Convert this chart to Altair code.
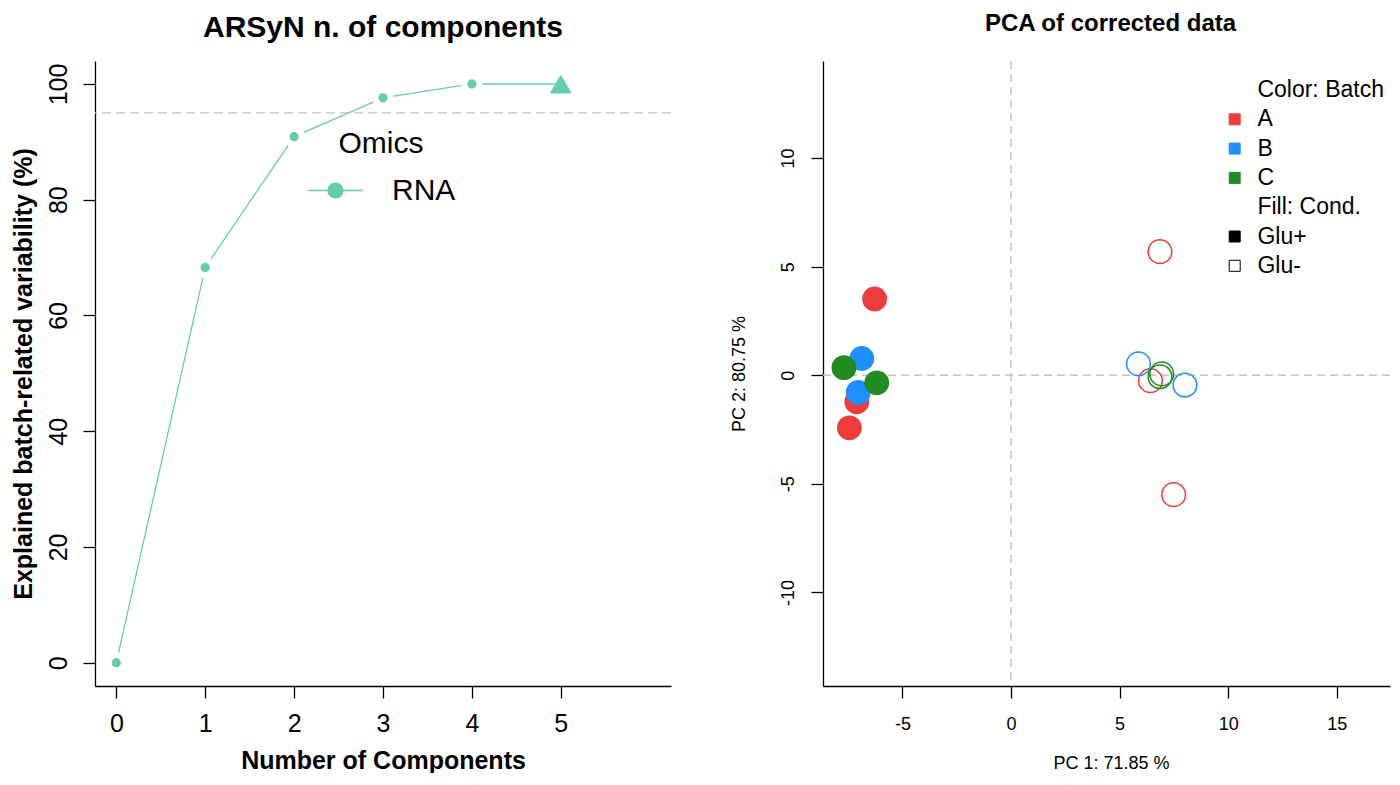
import altair as alt
import pandas as pd

TEAL = "#66CDAA"
RED = "#EE3B3B"
BLUE = "#1E90FF"
GREEN = "#228B22"
DASH = "#C4C4C4"

# ---- left panel data ----
components = [0, 1, 2, 3, 4, 5]
variability = [0.0, 68.3, 90.9, 97.6, 100.0, 100.0]
selected = [False, False, False, False, False, True]
omics = ["RNA"] * 6
threshold = [95]

# ---- right panel data ----
batch = ["A"] * 6 + ["B"] * 4 + ["C"] * 4
cond = ["Glu+", "Glu+", "Glu+", "Glu-", "Glu-", "Glu-",
        "Glu+", "Glu+", "Glu-", "Glu-",
        "Glu+", "Glu+", "Glu-", "Glu-"]
pc1 = [-6.28, -7.10, -7.44, 6.86, 6.42, 7.49,
       -6.87, -7.03, 5.87, 8.01,
       -7.69, -6.18, 6.94, 6.86]
pc2 = [3.51, -1.22, -2.42, 5.69, -0.25, -5.50,
       0.77, -0.79, 0.52, -0.45,
       0.35, -0.35, 0.06, -0.07]
batches = ["A", "B", "C"]
batch_colors = [RED, BLUE, GREEN]

legend_labels = ["Color: Batch", "A", "B", "C", "Fill: Cond.", "Glu+", "Glu-"]
legend_fill = ["transparent", RED, BLUE, GREEN, "transparent", "black", "white"]
legend_stroke = ["transparent", RED, BLUE, GREEN, "transparent", "black", "black"]

WL, WR, H = 576, 567, 625

# ================= LEFT =================
df_l = pd.DataFrame({"comp": components, "var": variability, "sel": selected, "omic": omics})
df_thr = pd.DataFrame({"var": threshold})

xl = alt.X("comp:Q",
           scale=alt.Scale(domain=[-0.24, 6.24], nice=False, zero=False),
           axis=alt.Axis(values=components, title="Number of Components",
                         titleFontSize=25, titleFontWeight="bold",
                         labelFontSize=25, labelPadding=13, titlePadding=12,
                         labelFlush=False, labelOverlap=False))
yl = alt.Y("var:Q",
           scale=alt.Scale(domain=[-4.03, 103.97], nice=False, zero=False),
           axis=alt.Axis(values=[0, 20, 40, 60, 80, 100],
                         title="Explained batch-related variability (%)",
                         titleFontSize=25, titleFontWeight="bold",
                         labelFontSize=25, labelAngle=270, labelAlign="center",
                         labelBaseline="bottom", labelPadding=12, titlePadding=10,
                         labelFlush=False, labelOverlap=False))

SYM = "M-1,0L1,0M-0.27,0A0.27,0.27,0,1,1,0.27,0A0.27,0.27,0,1,1,-0.27,0Z"
leg_l = alt.Legend(title="Omics", orient="none", legendX=212, legendY=68,
                   titleFontSize=30, titleFontWeight="normal", titleAnchor="middle",
                   titlePadding=3, titleColor="black",
                   labelFontSize=30, labelColor="black", labelOffset=28,
                   symbolType=SYM, symbolSize=3025, symbolStrokeWidth=1.3,
                   symbolOpacity=1, padding=0)

thr = alt.Chart(df_thr).mark_rule(color=DASH, strokeDash=[9, 5], strokeWidth=1.2).encode(y=yl)
line = alt.Chart(df_l).mark_line(color=TEAL, strokeWidth=1.3).encode(x=xl, y=yl)
halo = alt.Chart(df_l).transform_filter("!datum.sel").mark_point(
    filled=True, color="white", size=452, opacity=1).encode(x=xl, y=yl)
pts = alt.Chart(df_l).transform_filter("!datum.sel").mark_point(
    filled=True, color=TEAL, size=85, opacity=1).encode(x=xl, y=yl)
tri = alt.Chart(df_l).transform_filter("datum.sel").mark_point(
    filled=True, shape="triangle-up", color=TEAL, size=484, opacity=1).encode(x=xl, y=yl)
leg_layer = alt.Chart(df_l).transform_filter("false").mark_point(
    filled=True, shape=SYM, opacity=1).encode(
    fill=alt.Fill("omic:N", scale=alt.Scale(domain=["RNA"], range=[TEAL]), legend=leg_l),
    stroke=alt.Stroke("omic:N", scale=alt.Scale(domain=["RNA"], range=[TEAL]), legend=leg_l))

left = alt.layer(thr, line, halo, pts, tri, leg_layer).properties(
    width=WL, height=H,
    title=alt.TitleParams("ARSyN n. of components", fontSize=30, fontWeight="bold",
                          anchor="middle", offset=18, color="black"))

# ================= RIGHT =================
df_r = pd.DataFrame({"pc1": pc1, "pc2": pc2, "batch": batch, "cond": cond})

xr = alt.X("pc1:Q",
           scale=alt.Scale(domain=[-8.655, 17.45], nice=False, zero=False),
           axis=alt.Axis(values=[-5, 0, 5, 10, 15], title="PC 1: 71.85 %",
                         titleFontSize=18, titleFontWeight="normal",
                         labelFontSize=18, labelPadding=17, titlePadding=21,
                         titleX=288,
                         labelExpr="'' + datum.value",
                         labelFlush=False, labelOverlap=False))
yr = alt.Y("pc2:Q",
           scale=alt.Scale(domain=[-14.31, 14.47], nice=False, zero=False),
           axis=alt.Axis(values=[-10, -5, 0, 5, 10], title="PC 2: 80.75 %",
                         titleFontSize=18, titleFontWeight="normal",
                         labelFontSize=18, labelAngle=270, labelAlign="center",
                         labelBaseline="bottom", labelPadding=13.5, titlePadding=31,
                         labelExpr="'' + datum.value",
                         labelFlush=False, labelOverlap=False))

col = alt.Color("batch:N", scale=alt.Scale(domain=batches, range=batch_colors), legend=None)

vrule = alt.Chart(pd.DataFrame({"pc1": [0]})).mark_rule(
    color=DASH, strokeDash=[8, 5], strokeWidth=1.5).encode(x=xr)
hrule = alt.Chart(pd.DataFrame({"pc2": [0]})).mark_rule(
    color=DASH, strokeDash=[8, 5], strokeWidth=1.5).encode(y=yr)
filled = alt.Chart(df_r).transform_filter("datum.cond == 'Glu+'").mark_point(
    filled=True, size=616, opacity=1).encode(x=xr, y=yr, color=col)
hollow = alt.Chart(df_r).transform_filter("datum.cond == 'Glu-'").mark_point(
    filled=False, size=560, strokeWidth=1.5, opacity=1).encode(x=xr, y=yr, color=col)

leg_r = alt.Legend(title=None, orient="none", legendX=400.2, legendY=17.5,
                   labelFontSize=23, labelColor="black", labelOffset=11.2, labelLimit=300,
                   symbolType="square", symbolSize=121, symbolStrokeWidth=1,
                   symbolOpacity=1, rowPadding=5.3, padding=0)
leg_r_layer = alt.Chart(pd.DataFrame({"lab": legend_labels})).transform_filter("false").mark_point(
    filled=True, shape="square", opacity=1).encode(
    fill=alt.Fill("lab:N", scale=alt.Scale(domain=legend_labels, range=legend_fill), legend=leg_r),
    stroke=alt.Stroke("lab:N", scale=alt.Scale(domain=legend_labels, range=legend_stroke), legend=leg_r))

right = alt.layer(vrule, hrule, filled, hollow, leg_r_layer).properties(
    width=WR, height=H,
    title=alt.TitleParams("PCA of corrected data", fontSize=24, fontWeight="bold",
                          anchor="middle", offset=23.9, dx=4, color="black"))

chart = alt.hconcat(left, right, spacing=58).resolve_scale(
    fill="independent", stroke="independent", color="independent"
).resolve_legend(
    fill="independent", stroke="independent", color="independent"
).properties(
    padding={"left": 2, "top": 4, "right": 0, "bottom": 0}
).configure(font="Liberation Sans").configure_view(stroke=None).configure_axis(
    grid=False, domainColor="black", tickColor="black", labelColor="black",
    titleColor="black", domainWidth=1.3, tickWidth=1.3, tickSize=12)

chart.save("out.html", embed_options={"renderer": "svg", "actions": False})
